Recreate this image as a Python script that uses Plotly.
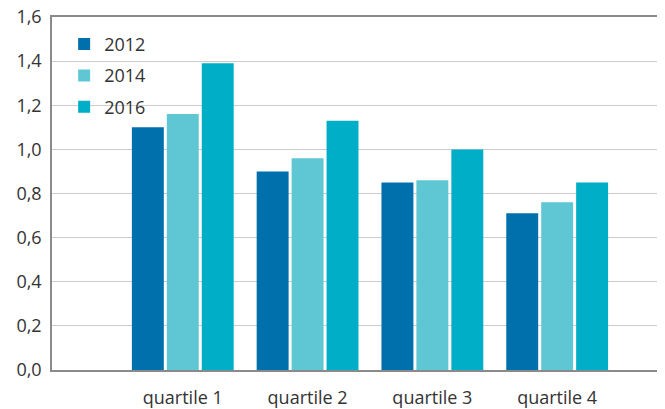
import plotly.graph_objects as go

categories = ["quartile 1", "quartile 2", "quartile 3", "quartile 4"]
years = ["2012", "2014", "2016"]
v2012 = [1.10, 0.90, 0.85, 0.71]
v2014 = [1.16, 0.96, 0.86, 0.76]
v2016 = [1.39, 1.13, 1.00, 0.85]
y_ticks = [0, 0.2, 0.4, 0.6, 0.8, 1.0, 1.2, 1.4, 1.6]

colors = ["#0070AD", "#5FC7D4", "#00AEC7"]
series = [v2012, v2014, v2016]
xpos = [1, 2, 3, 4]

fig = go.Figure()
for name, vals, col in zip(years, series, colors):
    fig.add_trace(go.Bar(x=xpos, y=vals, name=name, legendgroup=name,
                         marker=dict(color=col, line=dict(width=0))))

font_family = "Open Sans, Noto Sans, sans-serif"
# page body has an 8px margin, so the figure is sized to end at the window edge
fig.update_layout(
    width=657, height=401,
    margin=dict(l=44, r=6, t=9, b=39),
    paper_bgcolor="white", plot_bgcolor="white",
    barmode="group", bargap=0.16, bargroupgap=0.086,
    separators=", ",
    font=dict(family=font_family, size=18, color="#333333"),
    showlegend=True,
    legend=dict(x=0.02, y=0.975, xanchor="left", yanchor="top",
                bgcolor="rgba(0,0,0,0)", font=dict(size=18, color="#333333"),
                traceorder="grouped", tracegroupgap=5, itemwidth=30),
    xaxis=dict(range=[-0.048, 4.816], tickmode="array", tickvals=xpos, ticktext=categories,
               showgrid=False, zeroline=False, showline=True, linecolor="#8a8a8a", linewidth=1.5,
               mirror=True, ticks="outside", ticklen=11, tickcolor="rgba(0,0,0,0)",
               tickfont=dict(size=18, color="#333333"), automargin=False),
    yaxis=dict(range=[0, 1.6], tickmode="array", tickvals=y_ticks, tickformat=".1f",
               showgrid=True, gridcolor="#cccccc", gridwidth=1, zeroline=False,
               showline=True, linecolor="#8a8a8a", linewidth=1.5, mirror=True,
               ticks="outside", ticklen=5, tickcolor="rgba(0,0,0,0)",
               tickfont=dict(size=18, color="#333333"), automargin=False,
               ticklabeloverflow="allow"),
)

fig.write_html("out.html")
